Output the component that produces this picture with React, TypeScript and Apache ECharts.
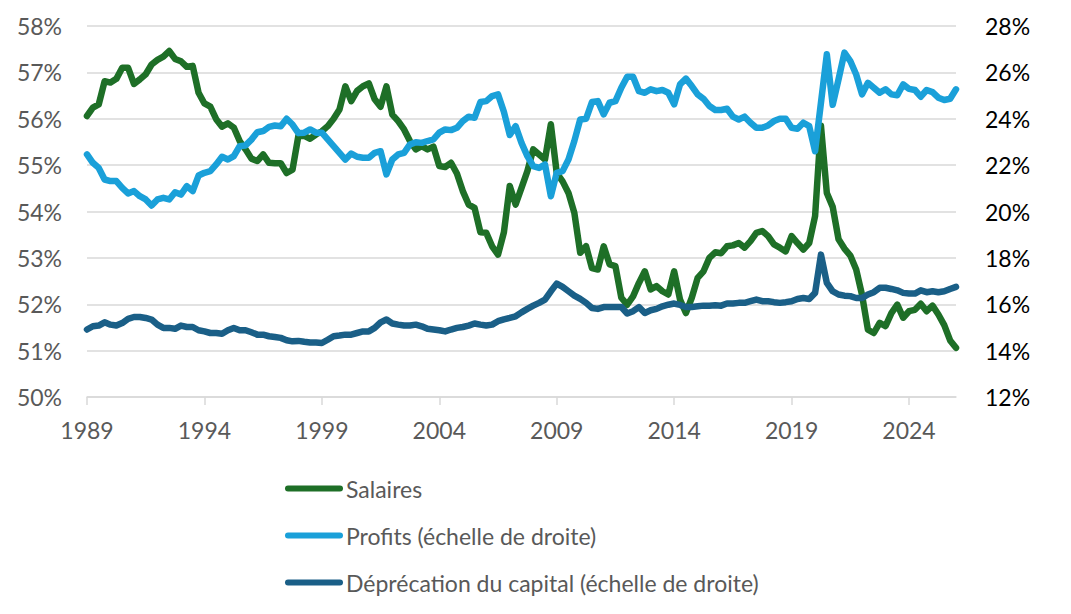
import { useRef, useEffect } from 'react'
import * as echarts from 'echarts'

// trimestres 1989T1 -> 2026T1
const firstYear = 1989
const quarters: string[] = []
for (let i = 0; i < 149; i++) {
  quarters.push(`${firstYear + Math.floor(i / 4)}T${(i % 4) + 1}`)
}

const salaires = [
  56.06, 56.24, 56.31, 56.81, 56.78, 56.86, 57.1, 57.1, 56.75, 56.85,
  56.96, 57.17, 57.27, 57.34, 57.46, 57.29, 57.24, 57.12, 57.14, 56.56,
  56.33, 56.26, 55.99, 55.83, 55.9, 55.81, 55.52, 55.34, 55.14, 55.09,
  55.23, 55.05, 55.04, 55.04, 54.83, 54.9, 55.63, 55.63, 55.57, 55.66,
  55.73, 55.84, 56.0, 56.2, 56.7, 56.38, 56.6, 56.7, 56.76, 56.42,
  56.26, 56.7, 56.09, 55.95, 55.77, 55.52, 55.34, 55.41, 55.34, 55.4,
  54.98, 54.96, 55.05, 54.82, 54.44, 54.15, 54.08, 53.55, 53.54, 53.25,
  53.07, 53.55, 54.55, 54.15, 54.51, 54.87, 55.34, 55.23, 55.12, 55.88,
  54.83, 54.65, 54.4, 53.97, 53.11, 53.25, 52.78, 52.75, 53.25, 52.86,
  52.82, 52.14, 51.99, 52.17, 52.46, 52.71, 52.32, 52.39, 52.28, 52.21,
  52.71, 52.1, 51.81, 52.14, 52.57, 52.71, 53.0, 53.12, 53.1, 53.25,
  53.27, 53.32, 53.22, 53.36, 53.54, 53.58, 53.47, 53.29, 53.22, 53.14,
  53.47, 53.32, 53.18, 53.32, 53.9, 55.85, 54.4, 54.1, 53.4, 53.2,
  53.05, 52.75, 52.2, 51.45, 51.38, 51.6, 51.53, 51.81, 51.99, 51.71,
  51.85, 51.88, 52.01, 51.85, 51.97, 51.78, 51.55, 51.22, 51.06,
]

const profits = [
  22.46, 22.1, 21.88, 21.38, 21.31, 21.31, 21.02, 20.78, 20.88, 20.66,
  20.52, 20.26, 20.52, 20.59, 20.52, 20.83, 20.73, 21.09, 20.88, 21.55,
  21.67, 21.74, 22.03, 22.36, 22.24, 22.39, 22.82, 22.85, 23.1, 23.42,
  23.47, 23.65, 23.71, 23.68, 24.0, 23.75, 23.38, 23.4, 23.54, 23.4,
  23.4, 23.11, 22.82, 22.53, 22.24, 22.5, 22.36, 22.32, 22.32, 22.53,
  22.6, 21.6, 22.24, 22.46, 22.53, 22.89, 22.99, 22.96, 23.04, 23.11,
  23.4, 23.54, 23.51, 23.61, 23.9, 24.09, 24.04, 24.72, 24.76, 24.98,
  25.05, 24.3, 23.3, 23.68, 22.96, 22.39, 21.96, 21.88, 22.03, 20.66,
  21.67, 21.74, 22.24, 23.04, 23.97, 24.0, 24.72, 24.76, 24.19, 24.69,
  24.76, 25.34, 25.81, 25.81, 25.19, 25.12, 25.27, 25.19, 25.24, 25.12,
  24.62, 25.48, 25.73, 25.41, 25.05, 24.86, 24.55, 24.38, 24.38, 24.43,
  24.09, 23.97, 24.09, 23.83, 23.61, 23.61, 23.71, 23.9, 24.0, 24.0,
  23.61, 23.57, 23.83, 23.68, 22.6, 24.69, 26.78, 24.6, 25.7, 26.85,
  26.49, 25.91, 25.05, 25.55, 25.34, 25.12, 25.27, 25.05, 25.01, 25.48,
  25.29, 25.24, 24.95, 25.24, 25.15, 24.91, 24.81, 24.86, 25.27,
]

const depreciation = [
  14.91, 15.05, 15.08, 15.22, 15.12, 15.08, 15.19, 15.37, 15.45, 15.45,
  15.41, 15.34, 15.12, 14.98, 14.98, 14.94, 15.08, 15.02, 15.02, 14.88,
  14.83, 14.76, 14.76, 14.73, 14.88, 14.98, 14.88, 14.88, 14.79, 14.69,
  14.69, 14.62, 14.59, 14.55, 14.45, 14.4, 14.42, 14.38, 14.35, 14.35,
  14.33, 14.47, 14.62, 14.65, 14.69, 14.69, 14.76, 14.83, 14.83, 14.98,
  15.22, 15.34, 15.17, 15.12, 15.08, 15.08, 15.12, 15.05, 14.94, 14.91,
  14.88, 14.83, 14.91, 14.98, 15.02, 15.08, 15.17, 15.12, 15.08, 15.12,
  15.27, 15.35, 15.41, 15.48, 15.65, 15.8, 15.94, 16.06, 16.2, 16.56,
  16.89, 16.75, 16.56, 16.37, 16.23, 16.06, 15.84, 15.8, 15.88, 15.88,
  15.88, 15.88, 15.6, 15.7, 15.88, 15.62, 15.74, 15.8, 15.91, 15.98,
  16.03, 15.97, 15.88, 15.88, 15.91, 15.94, 15.94, 15.96, 15.94, 16.03,
  16.03, 16.06, 16.06, 16.13, 16.2, 16.13, 16.13, 16.09, 16.06, 16.09,
  16.13, 16.23, 16.27, 16.23, 16.49, 18.14, 16.92, 16.56, 16.42, 16.37,
  16.35, 16.27, 16.27, 16.42, 16.52, 16.71, 16.71, 16.66, 16.6, 16.49,
  16.46, 16.46, 16.6, 16.52, 16.56, 16.52, 16.56, 16.66, 16.75,
]

const legendNames = ['Salaires', 'Profits (échelle de droite)', 'Déprécation du capital (échelle de droite)']
const colors = ['#1e6f27', '#1aa0d9', '#1a5f87']

const font = 'Lato, "Open Sans", sans-serif'
const grey = '#595959'
const gridGrey = '#d9d9d9'
const capsule = 'path://M3,0 H55 A3,3 0 0 1 55,6 H3 A3,3 0 0 1 3,0 Z'

const showYear = (index: number) => index % 20 === 0

export default function App() {
  const cDom = useRef<HTMLDivElement>(null)

  useEffect(() => {
    if (!cDom.current) return
    const chart = echarts.init(cDom.current, null, { renderer: 'svg' })
    const line = (name: string, data: number[], color: string, yAxisIndex: number) => ({
      name,
      type: 'line',
      yAxisIndex,
      data,
      symbol: 'none',
      smooth: false,
      lineStyle: { width: 6.5, color, cap: 'round', join: 'round' },
      itemStyle: { color },
    })
    chart.setOption({
      animation: false,
      backgroundColor: '#fff',
      textStyle: { fontFamily: font },
      grid: { left: 87, right: 115, top: 26, bottom: 217 },
      legend: {
        orient: 'vertical',
        left: 285,
        top: 477,
        padding: 0,
        itemWidth: 58,
        itemHeight: 6,
        itemGap: 24,
        icon: capsule,
        data: legendNames,
        textStyle: { color: grey, fontSize: 23, fontFamily: font, padding: [0, 0, 0, -2] },
      },
      xAxis: {
        type: 'category',
        data: quarters,
        boundaryGap: false,
        axisLine: { show: true, lineStyle: { color: gridGrey, width: 1.5 } },
        axisTick: { show: true, interval: showYear, length: 8, lineStyle: { color: gridGrey, width: 1.5 } },
        axisLabel: {
          interval: showYear,
          color: grey,
          fontSize: 23,
          fontFamily: font,
          margin: 21,
          formatter: (v: string) => v.slice(0, 4),
        },
        splitLine: { show: false },
      },
      yAxis: [
        {
          type: 'value',
          min: 50,
          max: 58,
          interval: 1,
          axisLine: { show: false },
          axisTick: { show: false },
          axisLabel: { color: grey, fontSize: 23, fontFamily: font, margin: 25, formatter: '{value}%' },
          splitLine: { lineStyle: { color: gridGrey, width: 1.5 } },
        },
        {
          type: 'value',
          min: 12,
          max: 28,
          interval: 2,
          position: 'right',
          axisLine: { show: false },
          axisTick: { show: false },
          axisLabel: { color: '#000', fontSize: 23, fontFamily: font, margin: 29, formatter: '{value}%' },
          splitLine: { show: false },
        },
      ],
      series: [
        line(legendNames[0], salaires, colors[0], 0),
        line(legendNames[1], profits, colors[1], 1),
        line(legendNames[2], depreciation, colors[2], 1),
      ],
    })
    return () => chart.dispose()
  }, [])

  return (
    <div
      ref={cDom}
      style={{ position: 'fixed', left: 0, top: 0, width: 1071, height: 614, background: '#fff' }}
    />
  )
}
